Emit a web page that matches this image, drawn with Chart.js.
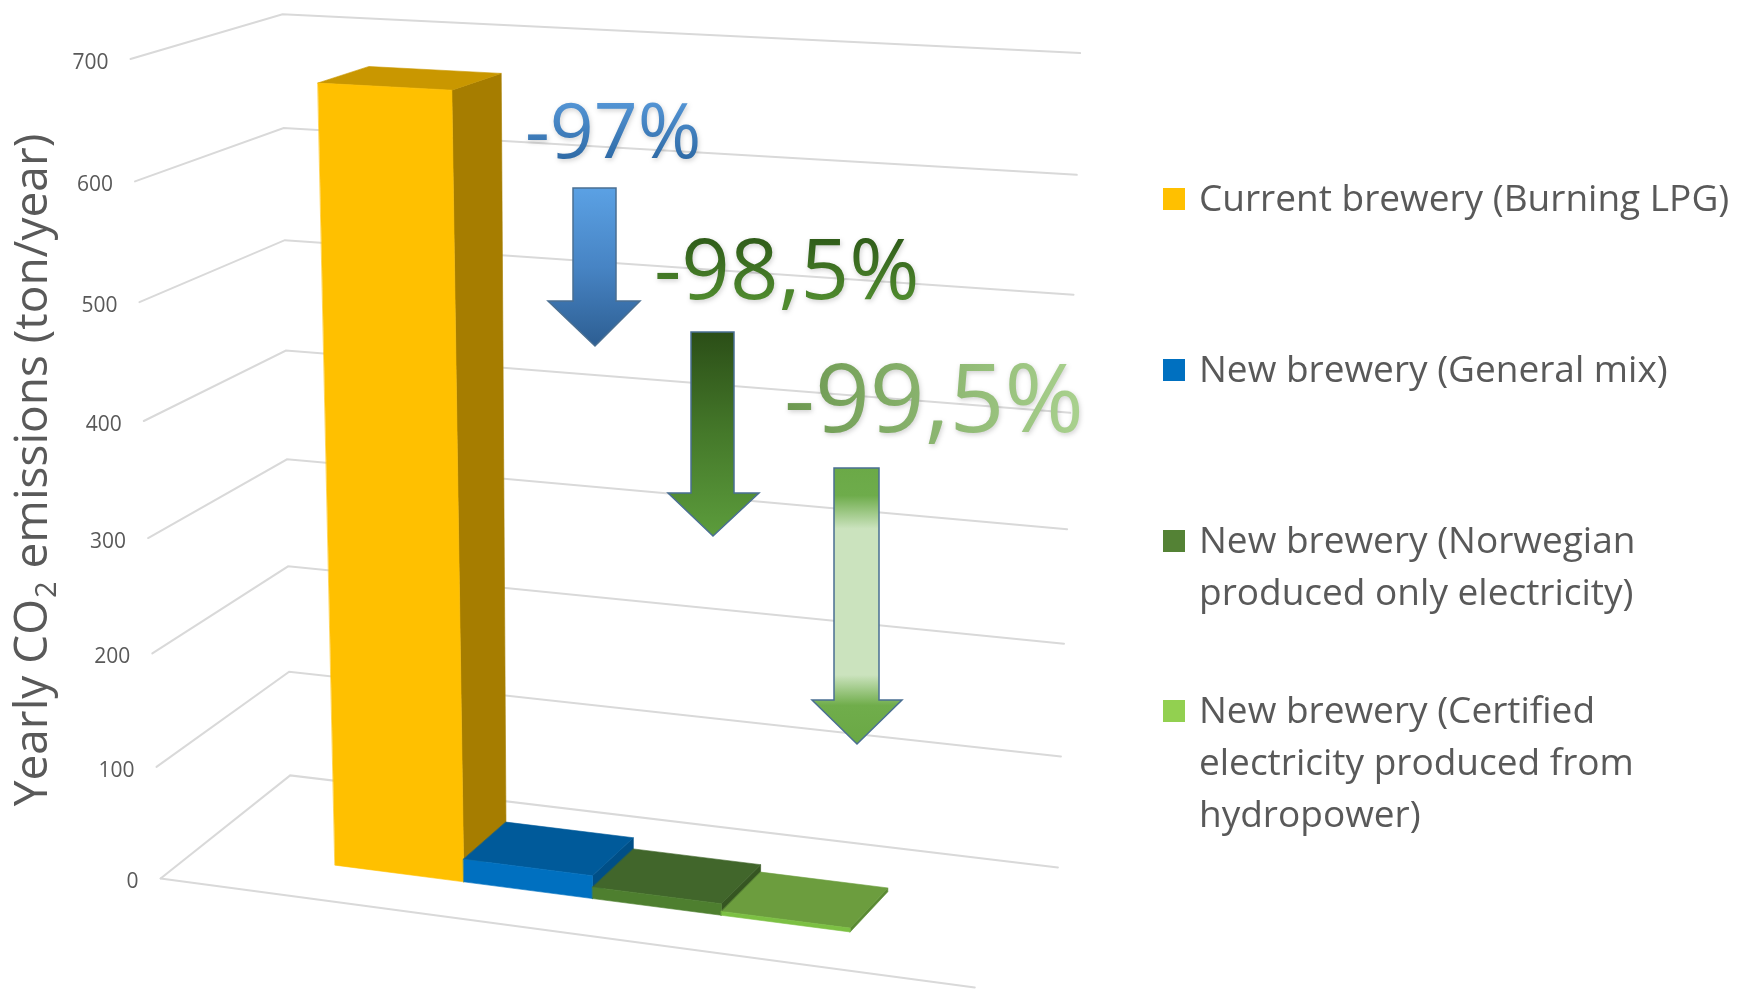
<!DOCTYPE html>
<html><head><meta charset="utf-8">
<script src="https://cdn.jsdelivr.net/npm/chart.js@4.4.1/dist/chart.umd.min.js"></script>
<style>html,body{margin:0;padding:0;background:#fff;overflow:hidden}canvas{display:block}</style>
</head><body>
<canvas id="c" width="1737" height="989"></canvas>
<script>
// ---------- data ----------
const categories = ['Yearly CO2 emissions'];
const seriesNames = [
  'Current brewery (Burning LPG)',
  'New brewery (General mix)',
  'New brewery (Norwegian produced only electricity)',
  'New brewery (Certified electricity produced from hydropower)'
];
const legendLines = [
  ['Current brewery (Burning LPG)'],
  ['New brewery (General mix)'],
  ['New brewery (Norwegian', 'produced only electricity)'],
  ['New brewery (Certified', 'electricity produced from', 'hydropower)']
];
const currentLPG = [675];
const generalMix = [20.3];
const norwegianOnly = [10.1];
const certifiedHydro = [3.4];
const yTicks = [0, 100, 200, 300, 400, 500, 600, 700];
const reductionLabels = ['-97%', '-98,5%', '-99,5%'];
const axisTitleParts = ['Yearly CO', '2', ' emissions (ton/year)'];

// ---------- styles ----------
const frontColors = ['#FFC000', '#0070C0', '#4E7F2F', '#7CC043'];
const topColors   = ['#C99700', '#005A9A', '#41662B', '#6C9D3E'];
const sideColors  = ['#A67D00', '#004F87', '#365622', '#5A8A33'];
const legendColors = ['#FFC000', '#0070C0', '#548235', '#92D050'];

// perspective frame (page pixels)
const G = {
  F00: [160.6, 878.5], F01: [130.5, 59.0], F10: [954.9, 984.8], F11: [958.2, 100.5],
  B00: [290.2, 775.4], B01: [282.5, 14.4], B10: [1057.9, 867.4], B11: [1080.1, 53.2]
};
const DF = 0.30, DB = 0.65;
function warp(t) { return 0.9462 * t + 0.0539 * t * t; }
function lerp(a, b, k) { return [a[0] + (b[0] - a[0]) * k, a[1] + (b[1] - a[1]) * k]; }
function P(u, t, d) {
  const bf = lerp(G.F00, G.F10, u), tf = lerp(G.F01, G.F11, u);
  const bb = lerp(G.B00, G.B10, u), tb = lerp(G.B01, G.B11, u);
  return lerp(lerp(bf, bb, d), lerp(tf, tb, d), warp(t));
}
function poly(ctx, pts, fill) {
  ctx.beginPath();
  ctx.moveTo(pts[0][0], pts[0][1]);
  for (let i = 1; i < pts.length; i++) ctx.lineTo(pts[i][0], pts[i][1]);
  ctx.closePath();
  ctx.fillStyle = fill; ctx.fill();
  ctx.strokeStyle = fill; ctx.lineWidth = 0.6; ctx.stroke();
}

const arrows = [
  { sl: 573, sr: 616, y0: 188, hy: 301, hl: 548, hr: 640, tx: 595, ty: 346,
    stops: [[0, '#5BA1E4'], [0.5, '#4784C4'], [1, '#2D5E92']] },
  { sl: 691, sr: 734, y0: 332, hy: 493, hl: 668, hr: 759, tx: 713, ty: 536,
    stops: [[0, '#2B4E17'], [0.5, '#45792A'], [1, '#5C9C3C']] },
  { sl: 834, sr: 879, y0: 468, hy: 700, hl: 812, hr: 902, tx: 857, ty: 744,
    stops: [[0, '#6BA947'], [0.1, '#6EAC4B'], [0.22, '#CBE3BE'], [0.75, '#CBE3BE'], [0.86, '#70AD4B'], [1, '#6AA845']] }
];
const labelsPos = [
  { x: 525, y: 158, size: 77, grad: [0, 100, 0, 158], stops: [[0, '#5596D6'], [1, '#2F6BA7']] },
  { x: 654, y: 299, size: 85, grad: [0, 238, 0, 299], stops: [[0, '#2F5C19'], [1, '#4F8A2E']] },
  { x: 784, y: 432, size: 96, grad: [784, 0, 1080, 0], stops: [[0, '#6C9850'], [1, '#A9D18E']] }
];

const perspectivePlugin = {
  id: 'perspective3d',
  beforeDraw(chart) {
    const ctx = chart.ctx;
    ctx.save(); ctx.fillStyle = '#fff'; ctx.fillRect(0, 0, chart.width, chart.height); ctx.restore();
  },
  beforeDatasetsDraw() { return false; },
  afterDraw(chart) {
    const ctx = chart.ctx, ca = chart.chartArea, ys = chart.scales.y;
    const tOf = v => (ca.bottom - ys.getPixelForValue(v)) / (ca.bottom - ca.top);
    const uOf = px => (px - ca.left) / (ca.right - ca.left);
    ctx.save();
    // gridlines
    ctx.strokeStyle = '#D9D9D9'; ctx.lineWidth = 2; ctx.lineCap = 'round';
    yTicks.forEach(v => {
      const t = tOf(v);
      const a = P(0, t, 0), b = P(0, t, 1), c = P(1, t, 1);
      ctx.beginPath(); ctx.moveTo(a[0], a[1]); ctx.lineTo(b[0], b[1]); ctx.lineTo(c[0], c[1]); ctx.stroke();
    });
    { const a = P(0, 0, 0), b = P(1.025, 0, 0);
      ctx.beginPath(); ctx.moveTo(a[0], a[1]); ctx.lineTo(b[0], b[1]); ctx.stroke(); }
    // tick labels
    ctx.fillStyle = '#595959'; ctx.font = '21px "Open Sans"';
    ctx.textAlign = 'right'; ctx.textBaseline = 'middle';
    yTicks.forEach(v => {
      const a = P(0, tOf(v), 0);
      ctx.fillText(String(v), a[0] - 22, a[1] + 4);
    });
    // bars
    chart.data.datasets.forEach((ds, j) => {
      const el = chart.getDatasetMeta(j).data[0];
      const u0 = uOf(el.x - el.width / 2), u1 = uOf(el.x + el.width / 2);
      const t = tOf(ds.data[0]);
      const side = [P(u1, 0, DF), P(u1, 0, DB), P(u1, t, DB), P(u1, t, DF)];
      const top = [P(u0, t, DF), P(u1, t, DF), P(u1, t, DB), P(u0, t, DB)];
      const front = [P(u0, 0, DF), P(u1, 0, DF), P(u1, t, DF), P(u0, t, DF)];
      poly(ctx, side, sideColors[j]);
      poly(ctx, top, topColors[j]);
      poly(ctx, front, frontColors[j]);
    });
    // axis title
    ctx.save();
    ctx.translate(47, 471); ctx.rotate(-Math.PI / 2);
    ctx.fillStyle = '#595959'; ctx.textAlign = 'left'; ctx.textBaseline = 'alphabetic';
    const big = '46px "Open Sans"', small = '29px "Open Sans"';
    ctx.font = big; const w1 = ctx.measureText(axisTitleParts[0]).width, w3 = ctx.measureText(axisTitleParts[2]).width;
    ctx.font = small; const w2 = ctx.measureText(axisTitleParts[1]).width;
    let x = -(w1 + w2 + w3) / 2;
    ctx.font = big; ctx.fillText(axisTitleParts[0], x, 0); x += w1;
    ctx.font = small; ctx.fillText(axisTitleParts[1], x + 1, 9); x += w2 + 2;
    ctx.font = big; ctx.fillText(axisTitleParts[2], x, 0);
    ctx.restore();
    // arrows
    arrows.forEach(a => {
      const g = ctx.createLinearGradient(0, a.y0, 0, a.ty);
      a.stops.forEach(s => g.addColorStop(s[0], s[1]));
      ctx.beginPath();
      ctx.moveTo(a.sl, a.y0); ctx.lineTo(a.sr, a.y0); ctx.lineTo(a.sr, a.hy); ctx.lineTo(a.hr, a.hy);
      ctx.lineTo(a.tx, a.ty); ctx.lineTo(a.hl, a.hy); ctx.lineTo(a.sl, a.hy); ctx.closePath();
      ctx.fillStyle = g; ctx.fill();
      ctx.strokeStyle = '#4A6F92'; ctx.lineWidth = 1.5; ctx.lineJoin = 'miter'; ctx.stroke();
    });
    // reduction labels
    ctx.textAlign = 'left'; ctx.textBaseline = 'alphabetic';
    reductionLabels.forEach((txt, i) => {
      const L = labelsPos[i];
      const g = ctx.createLinearGradient(L.grad[0], L.grad[1], L.grad[2], L.grad[3]);
      L.stops.forEach(s => g.addColorStop(s[0], s[1]));
      ctx.font = L.size + 'px "Open Sans"';
      ctx.save();
      ctx.shadowColor = 'rgba(0,0,0,0.18)'; ctx.shadowBlur = 5; ctx.shadowOffsetX = 1; ctx.shadowOffsetY = 2;
      ctx.fillStyle = g; ctx.fillText(txt, L.x, L.y);
      ctx.restore();
    });
    // legend
    ctx.font = '37px "Open Sans"'; ctx.textBaseline = 'middle'; ctx.textAlign = 'left';
    const rows = [199, 370, 541, 711];
    legendLines.forEach((lines, i) => {
      ctx.fillStyle = legendColors[i];
      ctx.fillRect(1163, rows[i] - 11, 22, 22);
      ctx.fillStyle = '#595959';
      lines.forEach((ln, k) => ctx.fillText(ln, 1199, rows[i] + k * 52 + 1));
    });
    ctx.restore();
  }
};

const hiddenAxis = { grid: { display: false }, border: { display: false }, ticks: { display: false } };

new Chart(document.getElementById('c'), {
  type: 'bar',
  data: {
    labels: categories,
    datasets: [
      { label: seriesNames[0], data: currentLPG, backgroundColor: legendColors[0] },
      { label: seriesNames[1], data: generalMix, backgroundColor: legendColors[1] },
      { label: seriesNames[2], data: norwegianOnly, backgroundColor: legendColors[2] },
      { label: seriesNames[3], data: certifiedHydro, backgroundColor: legendColors[3] }
    ]
  },
  options: {
    responsive: false,
    animation: false,
    devicePixelRatio: 1,
    layout: { padding: 0 },
    datasets: { bar: { categoryPercentage: 0.655, barPercentage: 1.0 } },
    plugins: { legend: { display: false }, tooltip: { enabled: false } },
    scales: {
      x: Object.assign({ display: true }, hiddenAxis),
      y: Object.assign({ display: true, min: 0, max: 700, ticks: { display: false, stepSize: 100 } },
        { grid: { display: false }, border: { display: false } })
    }
  },
  plugins: [perspectivePlugin]
});
</script>
</body></html>
